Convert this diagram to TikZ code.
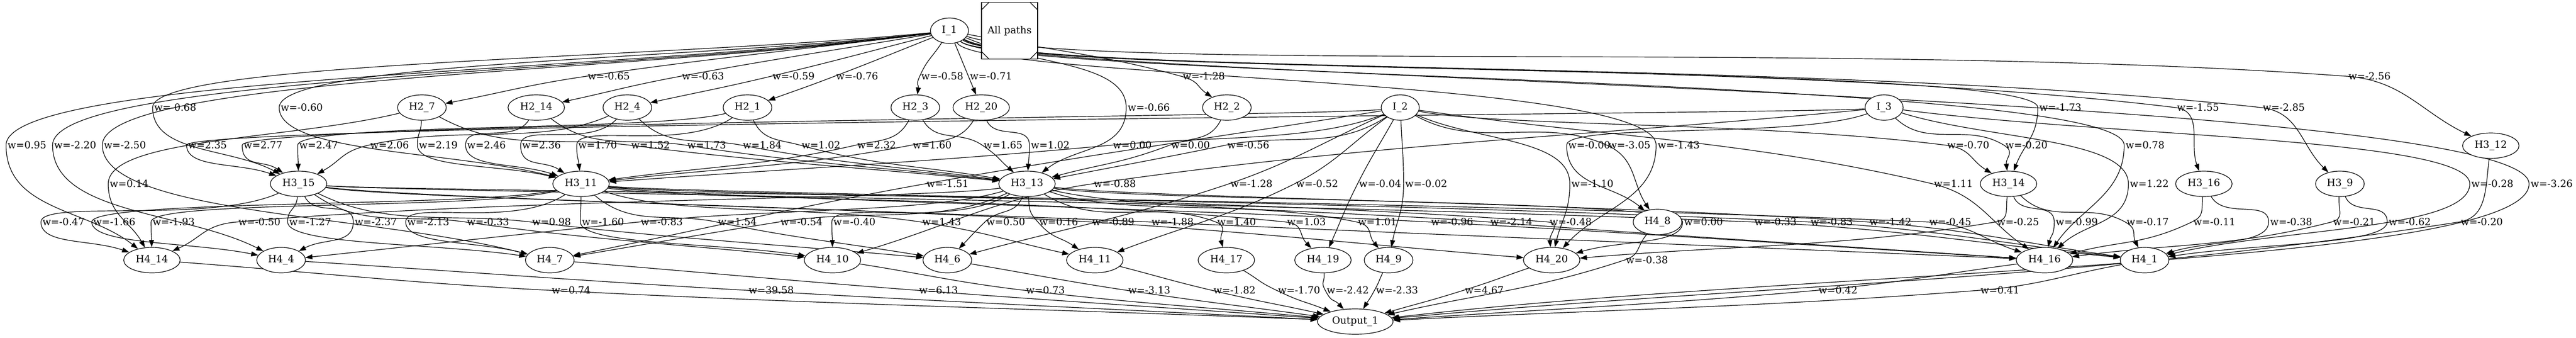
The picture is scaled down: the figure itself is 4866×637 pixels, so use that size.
\documentclass[tikz,border=0pt]{standalone}
\usepackage{fontspec}
\setmainfont{DejaVu Serif}
\usepackage{tikz}
\usetikzlibrary{arrows.meta}
\usetikzlibrary{shapes.geometric}
\usetikzlibrary{backgrounds}

\tikzset{
  neuron/.style={ellipse, draw, fill=white, line width=0.9pt, inner sep=0pt,
    minimum width=80pt, minimum height=36pt},
  short/.style={neuron, minimum width=69pt},
  input/.style={neuron, minimum width=54pt},
  output/.style={neuron, minimum width=107pt},
  note/.style={draw, fill=white, line width=0.9pt, inner sep=0pt,
    minimum width=79.5pt, minimum height=80pt},
  weight/.style={inner xsep=2pt, inner ysep=1pt},
  link/.style={line width=0.9pt, -{Triangle[length=10pt, width=7pt]}}
}

% one weighted connection: source, target, label centre x, y, weight
\newcount\wirecount
\newcommand{\wirebend}{1}
\newcommand{\wirereach}{10}
\newcommand{\wiredrop}{0}
\newcommand{\wire}[5]{%
  \global\advance\wirecount by 1
  \node[weight] (w\the\wirecount) at (#3,#4) {w=#5};
  \path (#1); \pgfgetlastxy{\ax}{\ay}
  \path (w\the\wirecount.west); \pgfgetlastxy{\bx}{\by}
  \path (#2); \pgfgetlastxy{\cx}{\cy}
  \pgfmathsetmacro{\dxa}{(\bx)-(\ax)}
  \pgfmathsetmacro{\dya}{(\by)-(\ay)}
  \pgfmathsetmacro{\dxb}{(\cx)-(\bx)}
  \pgfmathsetmacro{\dyb}{(\cy)-(\by)}
  \pgfmathsetmacro{\lena}{100*veclen(\dxa/100,\dya/100)}
  \pgfmathsetmacro{\lenb}{100*veclen(\dxb/100,\dyb/100)}
  \pgfmathsetmacro{\inr}{(\dxa/100)*(\dxb/100)>0}
  \pgfmathsetmacro{\aout}{atan2(\dya,\wirebend*\dxa)}
  \pgfmathsetmacro{\amid}{\inr>0 ? atan2(\dya+\dyb,\dxa+\dxb) : -90}
  \pgfmathsetmacro{\ain}{\amid+180}
  \pgfmathsetmacro{\aend}{atan2(\dyb,\dxb)+180}
  \pgfmathsetmacro{\dsa}{\wiredrop>0 ? min(0.35*\lena,\wiredrop/abs(sin(\aout)))
    : min(0.35*\lena,\wirereach*abs(\dya))}
  \pgfmathsetmacro{\dsb}{\inr>0 ? 0.35*\lena : min(0.35*\lena,0.6*abs(\dya))}
  \pgfmathsetmacro{\dsc}{\inr>0 ? 0.35*\lenb : min(0.35*\lenb,0.6*abs(\dyb))}
  \pgfmathsetmacro{\dsd}{0.35*\lenb}
  \begin{pgfonlayer}{background}
    \draw[link] (#1.\aout) .. controls +(\aout:\dsa pt) and +(\ain:\dsb pt) .. (\bx,\by)
      .. controls +(\amid:\dsc pt) and +(\aend:\dsd pt) .. (#2.\aend);
  \end{pgfonlayer}
}

\begin{document}
\begin{tikzpicture}[x=0.75pt, y=-0.75pt,
    every node/.style={font=\fontsize{14pt}{17pt}\selectfont}]
  \useasboundingbox (0,0) rectangle (4866,637);

  % neurons
  \node[input] (I_1) at (1793.5,58) {I\_1};
  \node[note] (legend) at (1907,58) {All paths};
  \foreach \c/\h/\v in {north west/1/-1, north east/-1/-1, south west/1/1, south east/-1/1}
    \draw[line width=0.9pt] ([yshift=\v*11.5pt]legend.\c) -- ([xshift=\h*11.5pt]legend.\c);

  \node[short] (H2_7) at (797,203) {H2\_7};
  \node[neuron] (H2_14) at (1013,203) {H2\_14};
  \node[short] (H2_4) at (1185,203) {H2\_4};
  \node[short] (H2_1) at (1412,203) {H2\_1};
  \node[short] (H2_3) at (1729,203) {H2\_3};
  \node[neuron] (H2_20) at (1853.5,203) {H2\_20};
  \node[short] (H2_2) at (2317.5,203) {H2\_2};
  \node[input] (I_2) at (2645,203) {I\_2};
  \node[input] (I_3) at (3559,203) {I\_3};

  \node[neuron] (H3_12) at (4705,275) {H3\_12};
  \node[neuron] (H3_15) at (564,347) {H3\_15};
  \node[neuron] (H3_11) at (1097.5,347) {H3\_11};
  \node[neuron] (H3_13) at (1940,347) {H3\_13};
  \node[neuron] (H3_14) at (3794,347) {H3\_14};
  \node[neuron] (H3_16) at (4163,347) {H3\_16};
  \node[short] (H3_9) at (4420,347) {H3\_9};

  \node[short] (H4_8) at (3131,419) {H4\_8};
  \node[neuron] (H4_14) at (287,491) {H4\_14};
  \node[short] (H4_4) at (531,491) {H4\_4};
  \node[short] (H4_7) at (1038.5,491) {H4\_7};
  \node[neuron] (H4_10) at (1572.5,491) {H4\_10};
  \node[short] (H4_6) at (1789.5,491) {H4\_6};
  \node[neuron] (H4_11) at (2068,491) {H4\_11};
  \node[neuron] (H4_17) at (2316.5,491) {H4\_17};
  \node[neuron] (H4_19) at (2499,491) {H4\_19};
  \node[short] (H4_9) at (2623,491) {H4\_9};
  \node[neuron] (H4_20) at (2931,491) {H4\_20};
  \node[neuron] (H4_16) at (3862,491) {H4\_16};
  \node[short] (H4_1) at (4051,491) {H4\_1};

  \node[output] (Output_1) at (2560,607) {Output\_1};

  % connections leaving I_1, skips and the output layer
  \foreach \s/\t/\lx/\ly/\w in {
    I_1/H2_7/1150/144/-0.65, I_1/H2_14/1328/144/-0.63, I_1/H2_4/1499/144/-0.59,
    I_1/H2_1/1619/144/-0.76, I_1/H2_3/1780/144/-0.58, I_1/H2_20/1872/144/-0.71,
    I_1/H2_2/2274/144/-1.28,
    I_1/H3_15/331/203/-0.68, I_1/H3_11/570/203/-0.60, I_1/H3_13/2170/203/-0.66,
    I_1/H4_14/51/274/0.95, I_1/H4_4/142/274/-2.20, I_1/H4_7/236/274/-2.50,
    H2_7/H4_14/244/347/0.14, I_2/H4_7/1790/347/-1.51, I_3/H4_10/2106/347/-0.88,
    I_2/H4_6/2364/347/-1.28, I_2/H4_11/2488/347/-0.52, I_2/H4_19/2607/347/-0.04,
    I_2/H4_9/2694/347/-0.02, I_2/H4_20/3008/347/-1.10, I_2/H4_16/3690/347/1.11,
    I_3/H4_16/4060/347/1.22, I_3/H4_1/4708/347/-0.28,
    H4_8/Output_1/3111/491/-0.38,
    H4_14/Output_1/1079/548/0.74, H4_4/Output_1/1457/548/39.58,
    H4_7/Output_1/1773/548/6.13, H4_10/Output_1/1975/548/0.73,
    H4_6/Output_1/2171/548/-3.13, H4_11/Output_1/2332/548/-1.82,
    H4_17/Output_1/2454/548/-1.70, H4_19/Output_1/2546/548/-2.42,
    H4_9/Output_1/2639/548/-2.33, H4_20/Output_1/2804/548/4.67,
    H4_16/Output_1/3472/548/0.42, H4_1/Output_1/3778/548/0.41}
    {\wire{\s}{\t}{\lx}{\ly}{\w}}

  % long runs to the right of I_1 drop into a band first
  \renewcommand{\wirebend}{0.1}
  \renewcommand{\wiredrop}{52.5}
  \foreach \s/\t/\lx/\ly/\w in {
    I_1/H3_14/3892/203/-1.73, I_1/H3_16/4152/203/-1.55, I_1/H3_9/4314/203/-2.85,
    I_1/H3_12/4476/144/-2.56, I_1/H4_20/3171/274/-1.43, I_1/H4_16/4052/274/0.78,
    I_1/Output_1/4820/347/-3.26}
    {\wire{\s}{\t}{\lx}{\ly}{\w}}

  % hidden layers, steeper exits
  \renewcommand{\wirebend}{0.33}
  \renewcommand{\wirereach}{2}
  \renewcommand{\wiredrop}{0}
  \foreach \s/\t/\lx/\ly/\w in {
    I_3/H3_15/392/274/2.35, I_2/H3_15/497/274/2.77, H2_1/H3_15/602/274/2.47,
    H2_4/H3_15/736/274/2.06, H2_7/H3_11/828/274/2.19, H2_14/H3_11/919/274/2.46,
    H2_4/H3_11/1023/274/2.36, H2_1/H3_11/1129/274/1.70, H2_7/H3_13/1229/274/1.52,
    H2_14/H3_13/1335/274/1.73, H2_4/H3_13/1440/274/1.84, H2_1/H3_13/1551/274/1.02,
    H2_3/H3_11/1656/274/2.32, H2_20/H3_11/1761/274/1.60, H2_3/H3_13/1895/274/1.65,
    H2_20/H3_13/1984/274/1.02, I_2/H3_11/2139/274/0.00, H2_2/H3_13/2249/274/0.00,
    I_2/H3_13/2358/274/-0.56, I_3/H4_8/3002/274/-0.00, I_2/H4_8/3078/274/-3.05,
    I_2/H3_14/3718/274/-0.70, I_3/H3_14/3828/274/-0.20,
    H3_15/H4_14/120/419/-0.47, H3_11/H4_4/216/419/-1.66, H3_11/H4_14/328/419/-1.93,
    H3_13/H4_14/490/419/-0.50, H3_15/H4_7/586/419/-1.27, H3_15/H4_4/710/419/-2.37,
    H3_11/H4_7/809/419/-2.13, H3_15/H4_10/922/419/-0.33, H3_15/H4_6/1042/419/0.98,
    H3_11/H4_10/1139/419/-1.60, H3_13/H4_4/1250/419/-0.83, H3_11/H4_6/1393/419/1.54,
    H3_13/H4_7/1514/419/-0.54, H3_13/H4_10/1614/419/-0.40, H3_11/H4_11/1779/419/1.43,
    H3_13/H4_6/1900/419/0.50, H3_13/H4_11/2000/419/0.16, H3_15/H4_20/2103/419/-0.89,
    H3_15/H4_16/2215/419/-1.88, H3_13/H4_17/2336/419/1.40, H3_11/H4_19/2468/419/1.03,
    H3_13/H4_9/2602/419/1.01, H3_11/H4_16/2743/419/-0.96, H3_13/H4_16/2855/419/-2.14,
    H3_11/H4_20/2967/419/-0.48, H3_13/H4_20/3218/419/0.00, H3_15/H4_1/3354/419/-0.33,
    H3_11/H4_1/3460/419/-0.83, H3_13/H4_1/3571/419/-1.42, H3_15/H4_16/3684/419/-0.45,
    H3_14/H4_20/3812/419/-0.25, H3_14/H4_16/3923/419/-0.99, H3_14/H4_1/4057/419/-0.17,
    H3_16/H4_16/4183/419/-0.11, H3_16/H4_1/4328/419/-0.38, H3_9/H4_16/4447/419/-0.21,
    H3_9/H4_1/4552/419/-0.62, H3_12/Output_1/4688/419/-0.20}
    {\wire{\s}{\t}{\lx}{\ly}{\w}}
\end{tikzpicture}
\end{document}
